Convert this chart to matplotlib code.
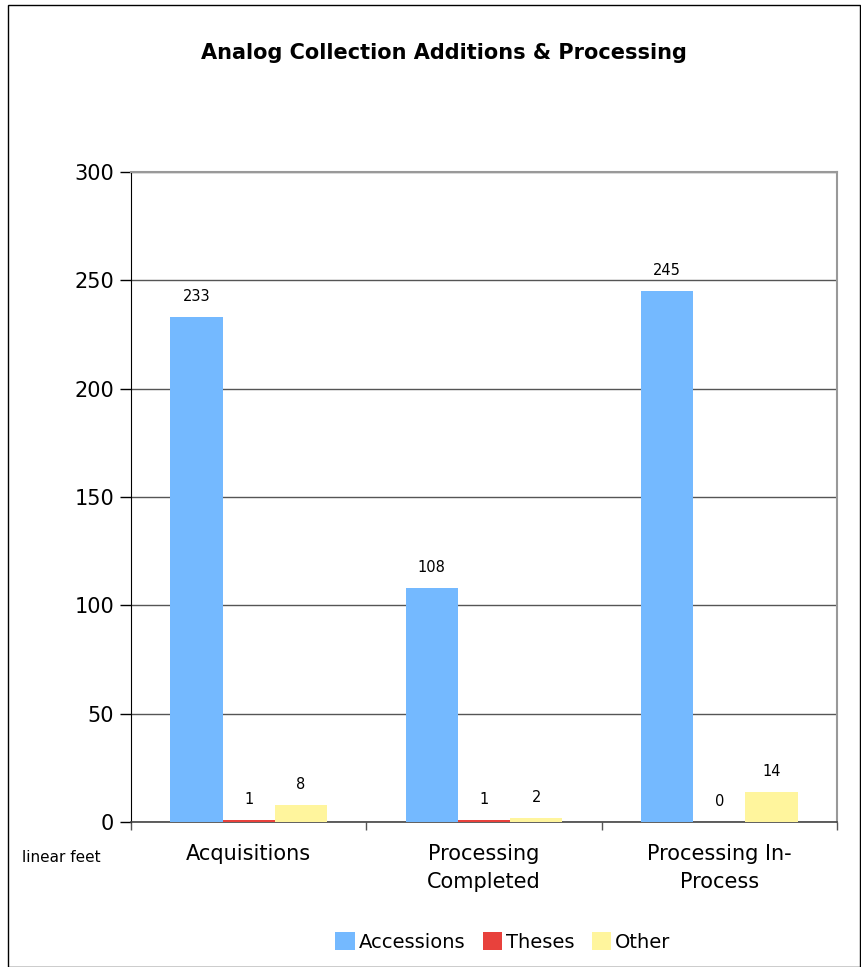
import numpy as np
import matplotlib
matplotlib.use("Agg")
import matplotlib.pyplot as plt
from matplotlib.patches import Rectangle

categories = ["Acquisitions", "Processing\nCompleted", "Processing In-\nProcess"]
series_names = ["Accessions", "Theses", "Other"]
accessions = [233, 108, 245]
theses = [1, 1, 0]
other = [8, 2, 14]
colors = ["#74b9ff", "#e8413c", "#fff59d"]

plt.rcParams['font.family'] = ['DejaVu Sans']

fig = plt.figure(figsize=(8.61, 9.67), dpi=100)
W, H = 861, 967
ax = fig.add_axes([131 / W, 1 - 822 / H, (837 - 131) / W, (822 - 172) / H])

x = np.arange(len(categories))
bw = 0.222
values = [accessions, theses, other]
for i, (name, vals, c) in enumerate(zip(series_names, values, colors)):
    pos = x + (i - 1) * bw
    ax.bar(pos, vals, width=bw, color=c, label=name, zorder=3)
    for p, v in zip(pos, vals):
        ax.text(p, v + 6, str(v), ha='center', va='bottom', fontsize=10.5, color='black')

ax.set_xlim(-0.5, 2.5)
ax.set_ylim(0, 300)
ax.set_yticks(range(0, 301, 50))
ax.tick_params(axis='y', labelsize=15, length=8, width=1, direction='out', pad=4)
ax.yaxis.grid(True, color='#555555', linewidth=1, zorder=0)

ax.set_xticks([-0.5, 0.5, 1.5, 2.5])
ax.set_xticklabels([])
ax.tick_params(axis='x', length=6, width=1, direction='out', color='#555555')
for xi, lab in zip(x, categories):
    ax.text(xi, -10, lab, ha='center', va='top', fontsize=15, linespacing=1.55)

ax.spines['left'].set_color('black')
ax.spines['bottom'].set_color('#444444')
ax.spines['bottom'].set_linewidth(1.2)
ax.spines['top'].set_color('#999999')
ax.spines['top'].set_linewidth(1.5)
ax.spines['right'].set_color('#999999')
ax.spines['right'].set_linewidth(1.5)

fig.text(444 / W, 1 - 53 / H, "Analog Collection Additions & Processing",
         ha='center', va='center', fontsize=15, fontweight='bold')
fig.text(22 / W, 1 - 857 / H, "linear feet", ha='left', va='center', fontsize=11)

fig.legend(loc='center', bbox_to_anchor=(503 / W, 1 - 942 / H), ncol=3,
           frameon=False, fontsize=14, handlelength=1.0, handleheight=1.0,
           handletextpad=0.2, columnspacing=0.9)

fig.patches.append(Rectangle((8 / W, 0), (860 - 8) / W, 1 - 5 / H,
                             transform=fig.transFigure, fill=False,
                             edgecolor='black', linewidth=1))

fig.savefig("out.png", dpi=100)
